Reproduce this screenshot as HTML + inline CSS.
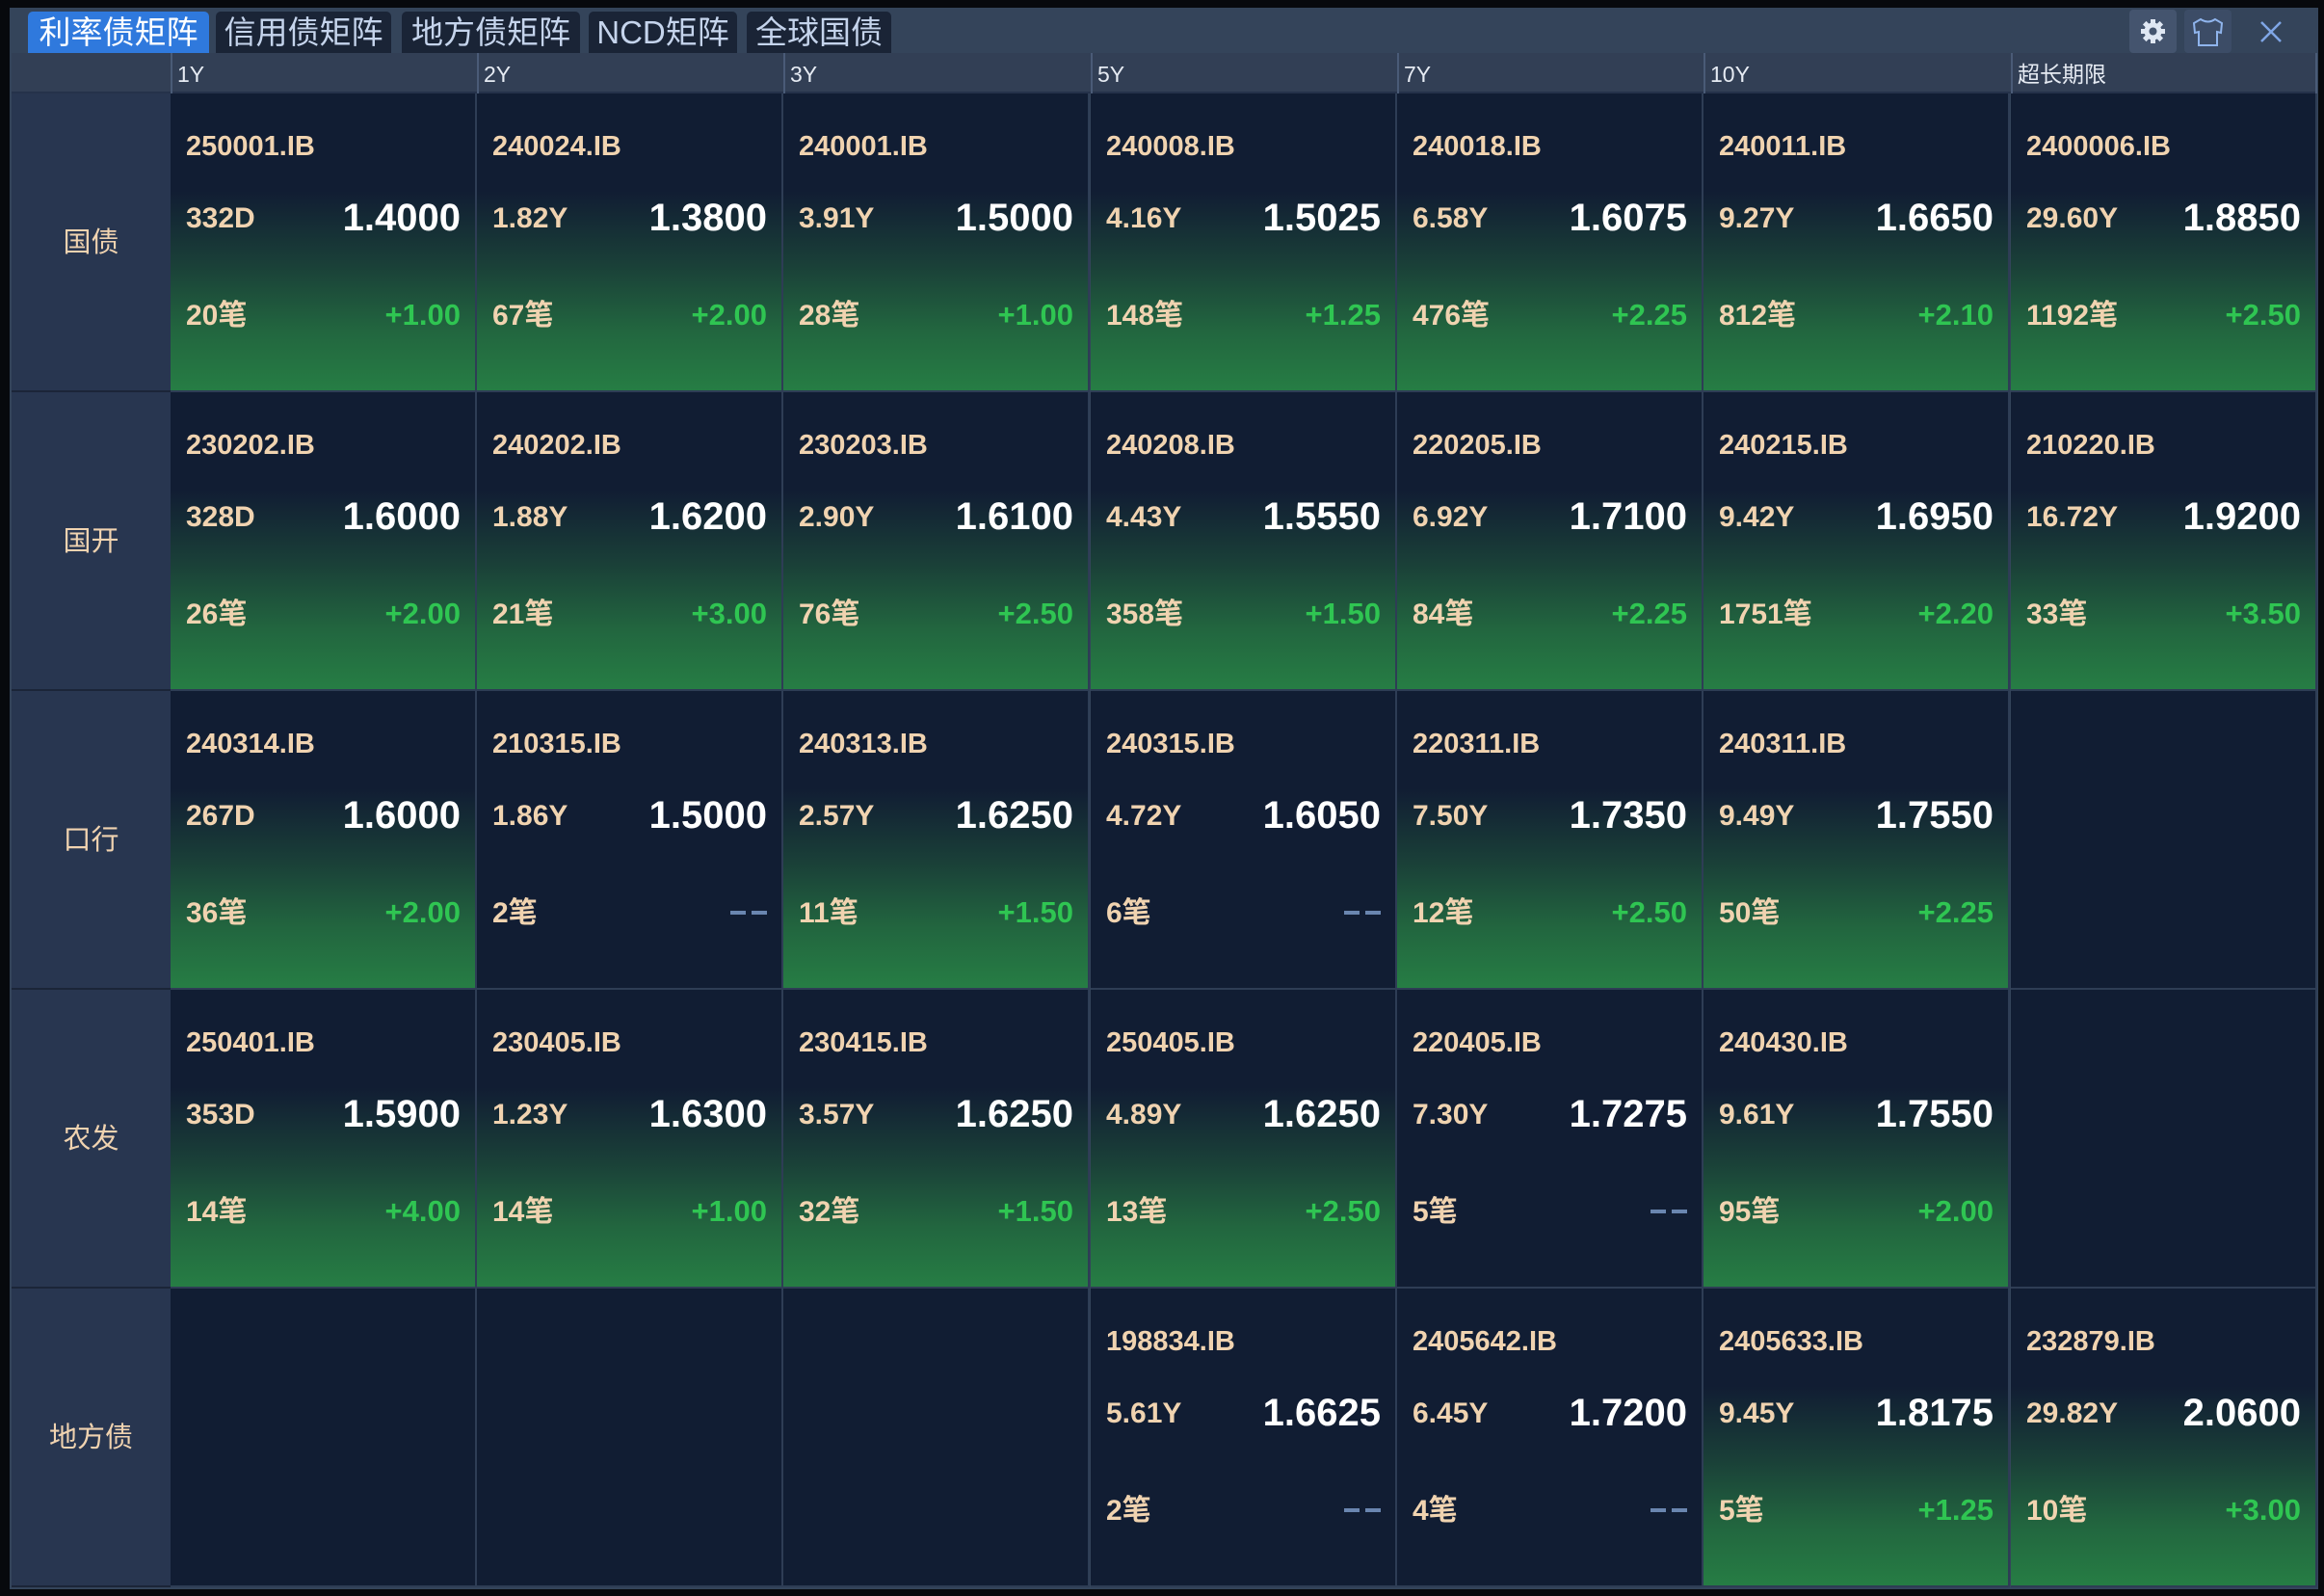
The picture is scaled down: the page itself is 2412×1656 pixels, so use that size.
<!DOCTYPE html>
<html><head><meta charset="utf-8"><style>
*{margin:0;padding:0;box-sizing:border-box}
body{width:2412px;height:1656px;background:#07090d;position:relative;overflow:hidden;font-family:"Liberation Sans","Noto Sans CJK SC",sans-serif}
.panel{position:absolute;left:10px;top:8px;width:2396px;height:1641px;background:#34445a}
.tab{position:absolute;top:12px;height:43px;background:#1a2436;color:#c5d4ec;font-size:33px;line-height:43px;text-align:center;border-radius:5px 5px 0 0}
.tab.a{background:#2f79dd;color:#fff}
.hdr{position:absolute;left:12px;top:55px;width:2393px;height:42px;background:#323f55;border-bottom:2px solid #25324a}
.hl{position:absolute;top:55px;height:42px;color:#e6ebf3;font-size:23px;line-height:44px;padding-left:5px;border-left:2px solid #4a5b77}
.rh{position:absolute;left:12px;width:165px;height:310px;background:#283650;color:#f0d3b0;font-size:29px;text-align:center;border-bottom:2px solid #1b2538}
.cell{position:absolute;width:318px;height:310px;background:#111d33;border-right:2px solid #2e3d55;border-bottom:2px solid #2e3d55}
.g{background:linear-gradient(to bottom,#111d33 0%,#111d33 33%,#1a4038 58%,#22663f 80%,#267d44 100%)}
.cell div{position:absolute;font-weight:bold;white-space:nowrap;line-height:1}
.c{left:16px;top:41px;font-size:29px;color:#f0d3b0}
.t{left:16px;top:115px;font-size:30px;color:#f0d3b0}
.p{right:15px;top:109px;font-size:40px;color:#fff}
.n{left:16px;top:216px;font-size:30px;color:#f0d3b0}
.cell .d{right:15px;top:214px;font-size:31px;color:#2fc552}
.cell .x{right:15px;top:228px;width:38px;height:4px;background:linear-gradient(to right,#6a86b0 0,#6a86b0 16px,transparent 16px,transparent 22px,#6a86b0 22px)}
.ib{position:absolute;top:10px;width:49px;height:45px;background:#44546e;border-radius:4px}
</style></head><body>
<div class="panel"></div>
<div class="tab a" style="left:29px;width:188px">利率债矩阵</div>
<div class="tab" style="left:224px;width:182px">信用债矩阵</div>
<div class="tab" style="left:417px;width:185px">地方债矩阵</div>
<div class="tab" style="left:611px;width:154px">NCD矩阵</div>
<div class="tab" style="left:775px;width:150px">全球国债</div>
<div class="ib" style="left:2210px"><svg width="49" height="45" viewBox="0 0 49 45"><g fill="#dfe7f3"><circle cx="24.5" cy="22.5" r="9"/><g stroke="#dfe7f3" stroke-width="5"><line x1="24.5" y1="10" x2="24.5" y2="35"/><line x1="12" y1="22.5" x2="37" y2="22.5"/><line x1="15.7" y1="13.7" x2="33.3" y2="31.3"/><line x1="33.3" y1="13.7" x2="15.7" y2="31.3"/></g></g><circle cx="24.5" cy="22.5" r="4" fill="#44546e"/></svg></div>
<div class="ib" style="left:2267px;background:#3c4c66"><svg width="49" height="45" viewBox="0 0 49 45"><path d="M17 10 L10 14 L11 24 L15 23 L15 37 L34 37 L34 23 L38 24 L39 14 L32 10 Q24.5 15 17 10Z" fill="none" stroke="#8fb4ec" stroke-width="2"/></svg></div>
<svg style="position:absolute;left:2345px;top:21px" width="24" height="24"><path d="M2 2L22 22M22 2L2 22" stroke="#7fa6e6" stroke-width="2.5"/></svg>
<div class="hdr"></div>
<div class="hl" style="left:177px">1Y</div><div class="hl" style="left:495px">2Y</div><div class="hl" style="left:813px">3Y</div><div class="hl" style="left:1132px">5Y</div><div class="hl" style="left:1450px">7Y</div><div class="hl" style="left:1768px">10Y</div><div class="hl" style="left:2087px;width:318px;border-right:2px solid #4a5b77">超长期限</div>

<div class="rh" style="top:97px;line-height:310px">国债</div>
<div class="rh" style="top:407px;line-height:310px">国开</div>
<div class="rh" style="top:717px;line-height:310px">口行</div>
<div class="rh" style="top:1027px;line-height:310px">农发</div>
<div class="rh" style="top:1337px;line-height:310px">地方债</div>

<!-- row 1 -->
<div class="cell g" style="left:177px;top:97px"><div class="c">250001.IB</div><div class="t">332D</div><div class="p">1.4000</div><div class="n">20笔</div><div class="d">+1.00</div></div>
<div class="cell g" style="left:495px;top:97px"><div class="c">240024.IB</div><div class="t">1.82Y</div><div class="p">1.3800</div><div class="n">67笔</div><div class="d">+2.00</div></div>
<div class="cell g" style="left:813px;top:97px"><div class="c">240001.IB</div><div class="t">3.91Y</div><div class="p">1.5000</div><div class="n">28笔</div><div class="d">+1.00</div></div>
<div class="cell g" style="left:1132px;top:97px"><div class="c">240008.IB</div><div class="t">4.16Y</div><div class="p">1.5025</div><div class="n">148笔</div><div class="d">+1.25</div></div>
<div class="cell g" style="left:1450px;top:97px"><div class="c">240018.IB</div><div class="t">6.58Y</div><div class="p">1.6075</div><div class="n">476笔</div><div class="d">+2.25</div></div>
<div class="cell g" style="left:1768px;top:97px"><div class="c">240011.IB</div><div class="t">9.27Y</div><div class="p">1.6650</div><div class="n">812笔</div><div class="d">+2.10</div></div>
<div class="cell g" style="left:2087px;top:97px"><div class="c">2400006.IB</div><div class="t">29.60Y</div><div class="p">1.8850</div><div class="n">1192笔</div><div class="d">+2.50</div></div>
<!-- row 2 -->
<div class="cell g" style="left:177px;top:407px"><div class="c">230202.IB</div><div class="t">328D</div><div class="p">1.6000</div><div class="n">26笔</div><div class="d">+2.00</div></div>
<div class="cell g" style="left:495px;top:407px"><div class="c">240202.IB</div><div class="t">1.88Y</div><div class="p">1.6200</div><div class="n">21笔</div><div class="d">+3.00</div></div>
<div class="cell g" style="left:813px;top:407px"><div class="c">230203.IB</div><div class="t">2.90Y</div><div class="p">1.6100</div><div class="n">76笔</div><div class="d">+2.50</div></div>
<div class="cell g" style="left:1132px;top:407px"><div class="c">240208.IB</div><div class="t">4.43Y</div><div class="p">1.5550</div><div class="n">358笔</div><div class="d">+1.50</div></div>
<div class="cell g" style="left:1450px;top:407px"><div class="c">220205.IB</div><div class="t">6.92Y</div><div class="p">1.7100</div><div class="n">84笔</div><div class="d">+2.25</div></div>
<div class="cell g" style="left:1768px;top:407px"><div class="c">240215.IB</div><div class="t">9.42Y</div><div class="p">1.6950</div><div class="n">1751笔</div><div class="d">+2.20</div></div>
<div class="cell g" style="left:2087px;top:407px"><div class="c">210220.IB</div><div class="t">16.72Y</div><div class="p">1.9200</div><div class="n">33笔</div><div class="d">+3.50</div></div>
<!-- row 3 -->
<div class="cell g" style="left:177px;top:717px"><div class="c">240314.IB</div><div class="t">267D</div><div class="p">1.6000</div><div class="n">36笔</div><div class="d">+2.00</div></div>
<div class="cell" style="left:495px;top:717px"><div class="c">210315.IB</div><div class="t">1.86Y</div><div class="p">1.5000</div><div class="n">2笔</div><div class="x"></div></div>
<div class="cell g" style="left:813px;top:717px"><div class="c">240313.IB</div><div class="t">2.57Y</div><div class="p">1.6250</div><div class="n">11笔</div><div class="d">+1.50</div></div>
<div class="cell" style="left:1132px;top:717px"><div class="c">240315.IB</div><div class="t">4.72Y</div><div class="p">1.6050</div><div class="n">6笔</div><div class="x"></div></div>
<div class="cell g" style="left:1450px;top:717px"><div class="c">220311.IB</div><div class="t">7.50Y</div><div class="p">1.7350</div><div class="n">12笔</div><div class="d">+2.50</div></div>
<div class="cell g" style="left:1768px;top:717px"><div class="c">240311.IB</div><div class="t">9.49Y</div><div class="p">1.7550</div><div class="n">50笔</div><div class="d">+2.25</div></div>
<div class="cell" style="left:2087px;top:717px"></div>
<!-- row 4 -->
<div class="cell g" style="left:177px;top:1027px"><div class="c">250401.IB</div><div class="t">353D</div><div class="p">1.5900</div><div class="n">14笔</div><div class="d">+4.00</div></div>
<div class="cell g" style="left:495px;top:1027px"><div class="c">230405.IB</div><div class="t">1.23Y</div><div class="p">1.6300</div><div class="n">14笔</div><div class="d">+1.00</div></div>
<div class="cell g" style="left:813px;top:1027px"><div class="c">230415.IB</div><div class="t">3.57Y</div><div class="p">1.6250</div><div class="n">32笔</div><div class="d">+1.50</div></div>
<div class="cell g" style="left:1132px;top:1027px"><div class="c">250405.IB</div><div class="t">4.89Y</div><div class="p">1.6250</div><div class="n">13笔</div><div class="d">+2.50</div></div>
<div class="cell" style="left:1450px;top:1027px"><div class="c">220405.IB</div><div class="t">7.30Y</div><div class="p">1.7275</div><div class="n">5笔</div><div class="x"></div></div>
<div class="cell g" style="left:1768px;top:1027px"><div class="c">240430.IB</div><div class="t">9.61Y</div><div class="p">1.7550</div><div class="n">95笔</div><div class="d">+2.00</div></div>
<div class="cell" style="left:2087px;top:1027px"></div>
<!-- row 5 -->
<div class="cell" style="left:177px;top:1337px"></div>
<div class="cell" style="left:495px;top:1337px"></div>
<div class="cell" style="left:813px;top:1337px"></div>
<div class="cell" style="left:1132px;top:1337px"><div class="c">198834.IB</div><div class="t">5.61Y</div><div class="p">1.6625</div><div class="n">2笔</div><div class="x"></div></div>
<div class="cell" style="left:1450px;top:1337px"><div class="c">2405642.IB</div><div class="t">6.45Y</div><div class="p">1.7200</div><div class="n">4笔</div><div class="x"></div></div>
<div class="cell g" style="left:1768px;top:1337px"><div class="c">2405633.IB</div><div class="t">9.45Y</div><div class="p">1.8175</div><div class="n">5笔</div><div class="d">+1.25</div></div>
<div class="cell g" style="left:2087px;top:1337px"><div class="c">232879.IB</div><div class="t">29.82Y</div><div class="p">2.0600</div><div class="n">10笔</div><div class="d">+3.00</div></div>
</body></html>
